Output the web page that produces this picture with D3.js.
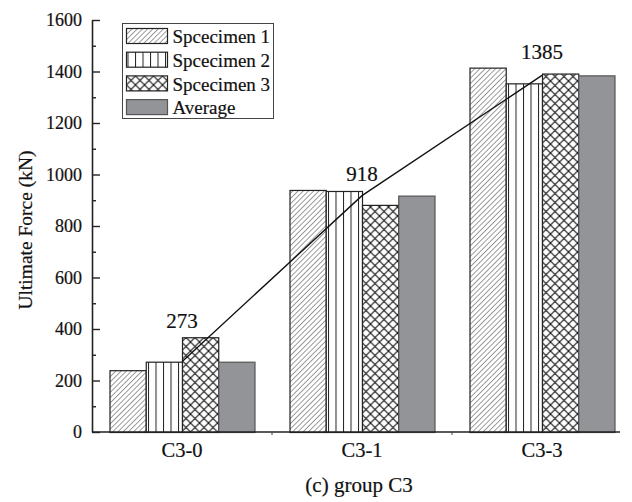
<!DOCTYPE html>
<html>
<head>
<meta charset="utf-8">
<script src="https://cdn.jsdelivr.net/npm/d3@7"></script>
<style>
  html, body { margin: 0; padding: 0; background: #fff; }
  svg text { font-family: "Liberation Serif", "Times New Roman", serif; fill: #111; stroke: #111; stroke-width: 0.2px; }
</style>
</head>
<body>
<svg id="chart" width="632" height="502"></svg>
<script>
// Ultimate force of group C3 specimens (kN)
const categories = ["C3-0", "C3-1", "C3-3"];
const seriesNames = ["Spcecimen 1", "Spcecimen 2", "Spcecimen 3", "Average"];
const specimen1 = [240, 940, 1415];
const specimen2 = [273, 936, 1354];
const specimen3 = [368, 882, 1392];
const average = [273, 918, 1385];
const yTicks = [0, 200, 400, 600, 800, 1000, 1200, 1400, 1600];

const seriesValues = [specimen1, specimen2, specimen3, average];
const fills = ["url(#hatchDiag)", "url(#hatchVert)", "url(#hatchCross)", "#939498"];

const svg = d3.select("#chart");
const margin = { left: 92, top: 20, bottom: 432, right: 632 };

const y = d3.scaleLinear().domain([0, 1600]).range([margin.bottom, margin.top]);
const x0 = d3.scaleBand().domain(categories).range([margin.left, margin.right]);
const groupWidth = 145;
const x1 = d3.scaleBand().domain(seriesNames).range([0, groupWidth]);
const groupStart = c => x0(c) + (x0.bandwidth() - groupWidth) / 2;

// hatch patterns
const defs = svg.append("defs");
const diag = defs.append("pattern").attr("id", "hatchDiag")
  .attr("patternUnits", "userSpaceOnUse").attr("width", 3.7).attr("height", 3.7)
  .attr("patternTransform", "rotate(45)");
diag.append("rect").attr("width", 3.7).attr("height", 3.7).attr("fill", "#fff");
diag.append("line").attr("x1", 0).attr("y1", 0).attr("x2", 0).attr("y2", 3.7)
  .attr("stroke", "#222").attr("stroke-width", 0.9);

const vert = defs.append("pattern").attr("id", "hatchVert")
  .attr("patternUnits", "userSpaceOnUse").attr("width", 7.5).attr("height", 10)
  .attr("x", 1);
vert.append("rect").attr("width", 7.5).attr("height", 10).attr("fill", "#fff");
vert.append("line").attr("x1", 0.5).attr("y1", 0).attr("x2", 0.5).attr("y2", 10)
  .attr("stroke", "#222").attr("stroke-width", 1);

const cross = defs.append("pattern").attr("id", "hatchCross")
  .attr("patternUnits", "userSpaceOnUse").attr("width", 9).attr("height", 9);
cross.append("rect").attr("width", 9).attr("height", 9).attr("fill", "#fff");
cross.append("path").attr("d", "M0,0L9,9M9,0L0,9")
  .attr("stroke", "#111").attr("stroke-width", 1.1);

// bars
const groups = svg.append("g").selectAll("g")
  .data(categories).join("g")
  .attr("transform", c => `translate(${groupStart(c)},0)`);

groups.selectAll("rect")
  .data((c, i) => seriesNames.map((s, k) => ({ s, k, v: seriesValues[k][i] })))
  .join("rect")
  .attr("x", d => x1(d.s) + 0.5)
  .attr("y", d => y(d.v) + 0.5)
  .attr("width", x1.bandwidth())
  .attr("height", d => y(0) - y(d.v))
  .attr("fill", d => fills[d.k])
  .attr("stroke", d => d.k === 3 ? "#555" : "#222")
  .attr("stroke-width", 1.2);

// average trend line
const line = d3.line()
  .x((d, i) => x0(categories[i]) + x0.bandwidth() / 2)
  .y(d => y(d));
svg.append("path").datum(average)
  .attr("d", line).attr("fill", "none")
  .attr("stroke", "#111").attr("stroke-width", 1.4);

// value labels, set just above the tallest bar of each group
const groupMax = categories.map((c, i) => d3.max(seriesValues, s => s[i]));
svg.append("g").selectAll("text")
  .data(average).join("text")
  .attr("x", (d, i) => x0(categories[i]) + x0.bandwidth() / 2)
  .attr("y", (d, i) => y(groupMax[i]) - 9)
  .attr("text-anchor", "middle")
  .attr("font-size", 21)
  .text(d => d);

// y axis
const yAxis = svg.append("g").attr("transform", `translate(${margin.left},0)`);
yAxis.call(d3.axisLeft(y).tickValues(d3.range(0, 1601, 100)).tickSize(0).tickFormat(""));
yAxis.select(".domain").attr("stroke", "#222").attr("stroke-width", 1.6);
yAxis.selectAll(".tick line")
  .attr("x2", d => (d % 200 === 0 ? 8 : 4))
  .attr("stroke", "#222").attr("stroke-width", 1.4);
yAxis.append("g").selectAll("text")
  .data(yTicks).join("text")
  .attr("x", -10).attr("y", d => y(d))
  .attr("dy", "0.35em")
  .attr("text-anchor", "end")
  .attr("font-size", 18)
  .text(d => d);

// x axis
const xAxis = svg.append("g").attr("transform", `translate(0,${margin.bottom})`);
xAxis.append("line").attr("x1", margin.left).attr("x2", 620)
  .attr("stroke", "#222").attr("stroke-width", 1.6);
xAxis.selectAll(".bound")
  .data(categories.slice(1)).join("line")
  .attr("class", "bound")
  .attr("x1", c => x0(c)).attr("x2", c => x0(c))
  .attr("y1", 0).attr("y2", 3)
  .attr("stroke", "#444").attr("stroke-width", 1);
xAxis.selectAll(".cat")
  .data(categories).join("text")
  .attr("class", "cat")
  .attr("x", c => x0(c) + x0.bandwidth() / 2)
  .attr("y", 24.5)
  .attr("text-anchor", "middle")
  .attr("font-size", 20.5)
  .text(c => c);

// axis title and caption
svg.append("text")
  .attr("transform", "translate(32,230) rotate(-90)")
  .attr("text-anchor", "middle")
  .attr("font-size", 19.5)
  .text("Ultimate Force (kN)");

svg.append("text")
  .attr("x", 359).attr("y", 492)
  .attr("text-anchor", "middle")
  .attr("font-size", 21)
  .text("(c) group C3");

// legend
const legend = svg.append("g").attr("transform", "translate(122.5,23.5)");
legend.append("rect").attr("width", 151).attr("height", 95)
  .attr("fill", "#fff").attr("stroke", "#444").attr("stroke-width", 1);
const items = legend.selectAll(".item")
  .data(seriesNames).join("g")
  .attr("class", "item")
  .attr("transform", (d, i) => `translate(4,${5 + i * 23.7})`);
items.append("rect")
  .attr("width", 41).attr("height", 15)
  .attr("fill", (d, i) => fills[i])
  .attr("stroke", (d, i) => i === 3 ? "#555" : "#222")
  .attr("stroke-width", 1.2);
items.append("text")
  .attr("x", 46).attr("y", 8).attr("dy", "0.35em")
  .attr("font-size", 19)
  .text(d => d);
</script>
</body>
</html>
